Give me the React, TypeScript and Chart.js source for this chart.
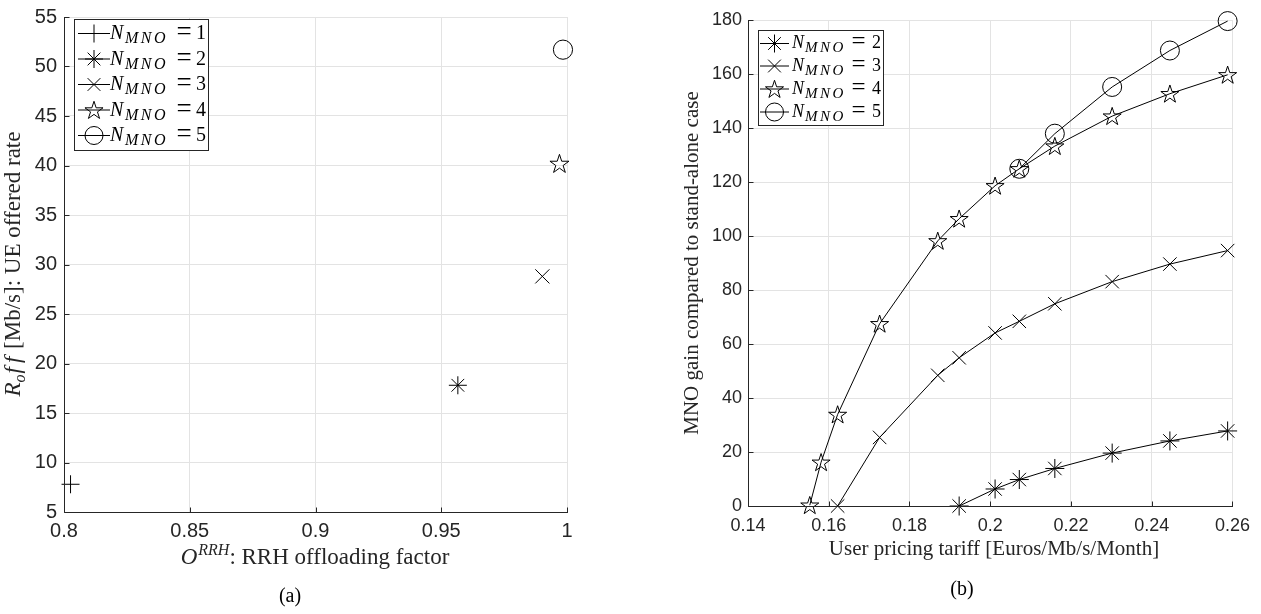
import React, { useEffect, useRef } from "react";
import { Chart, registerables } from "chart.js";
Chart.register(...registerables);

// ---------------- Panel (a) data ----------------
const mnoCountsA = [1, 2, 3, 4, 5];
const offloadingFactor = [0.8026, 0.9566, 0.9902, 0.997, 0.9984];
const offeredRate = [7.8, 17.8, 28.8, 40.2, 51.7];
const xTicksA = [0.8, 0.85, 0.9, 0.95, 1];
const yTicksA = [5, 10, 15, 20, 25, 30, 35, 40, 45, 50, 55];

// ---------------- Panel (b) data ----------------
const tariff = [0.1553, 0.1581, 0.1622, 0.1726, 0.187, 0.1923, 0.2012, 0.2072, 0.216, 0.2302, 0.2445, 0.2588];
const gainMno2 = [null, null, null, null, null, 0, 6.3, 9.8, 13.9, 19.6, 24.1, 27.8];
const gainMno3 = [null, null, 0, 25.4, 48.4, 54.9, 64.1, 68.4, 74.9, 83.1, 89.6, 94.6];
const gainMno4 = [0.3, 16.2, 33.9, 67.5, 98.2, 106.4, 118.6, 124.9, 133.3, 144.4, 152.7, 159.7];
const gainMno5 = [null, null, null, null, null, null, null, 124.9, 137.9, 155.2, 168.7, 179.6];
const mnoCountsB = [2, 3, 4, 5];
const xTicksB = [0.14, 0.16, 0.18, 0.2, 0.22, 0.24, 0.26];
const yTicksB = [0, 20, 40, 60, 80, 100, 120, 140, 160, 180];

const SANS = "'Liberation Sans', Arial, Helvetica, sans-serif";
const SERIF = "'Liberation Serif', 'Times New Roman', serif";
const AXIS = "#262626";
const GRID = "#e3e3e3";

type Kind = "cross" | "star" | "crossRot" | "penta" | "circle";
const kindByN: Record<number, Kind> = { 1: "cross", 2: "star", 3: "crossRot", 4: "penta", 5: "circle" };

function strokePentagram(ctx: CanvasRenderingContext2D, x: number, y: number, R: number) {
  const cy = y + R * 0.08;
  const r = R * 0.382;
  ctx.beginPath();
  for (let i = 0; i < 10; i++) {
    const ang = -Math.PI / 2 + (i * Math.PI) / 5;
    const rr = i % 2 === 0 ? R : r;
    const px = x + rr * Math.cos(ang);
    const py = cy + rr * Math.sin(ang);
    if (i === 0) ctx.moveTo(px, py);
    else ctx.lineTo(px, py);
  }
  ctx.closePath();
  ctx.strokeStyle = "#000";
  ctx.lineWidth = 1;
  ctx.stroke();
}

function drawMarker(ctx: CanvasRenderingContext2D, kind: Kind, x: number, y: number, r: number) {
  if (kind === "penta") {
    strokePentagram(ctx, x, y, r + 0.5);
    return;
  }
  ctx.beginPath();
  const d = r * Math.SQRT1_2;
  if (kind === "cross" || kind === "star") {
    ctx.moveTo(x - r, y);
    ctx.lineTo(x + r, y);
    ctx.moveTo(x, y - r);
    ctx.lineTo(x, y + r);
  }
  if (kind === "crossRot" || kind === "star") {
    ctx.moveTo(x - d, y - d);
    ctx.lineTo(x + d, y + d);
    ctx.moveTo(x - d, y + d);
    ctx.lineTo(x + d, y - d);
  }
  if (kind === "circle") ctx.arc(x, y, r, 0, Math.PI * 2);
  ctx.strokeStyle = "#000";
  ctx.lineWidth = 1;
  ctx.stroke();
}

// pentagram markers are not a built-in Chart.js point style: draw them at the
// element positions Chart.js computed for those datasets
const pentagramPlugin = {
  id: "pentagram",
  afterDatasetsDraw(chart: any) {
    const ctx: CanvasRenderingContext2D = chart.ctx;
    chart.data.datasets.forEach((ds: any, i: number) => {
      if (!ds.pentagramRadius) return;
      const meta = chart.getDatasetMeta(i);
      ctx.save();
      meta.data.forEach((el: any) => strokePentagram(ctx, el.x, el.y, ds.pentagramRadius));
      ctx.restore();
    });
  },
};

type Run = { t: string; f: string; dy?: number; gap?: number };
function runsWidth(ctx: CanvasRenderingContext2D, runs: Run[]) {
  let w = 0;
  for (const r of runs) {
    ctx.font = r.f;
    w += ctx.measureText(r.t).width + (r.gap || 0);
  }
  return w;
}
function drawRuns(ctx: CanvasRenderingContext2D, runs: Run[], x: number, y: number) {
  for (const r of runs) {
    ctx.font = r.f;
    ctx.fillText(r.t, x, y + (r.dy || 0));
    x += ctx.measureText(r.t).width + (r.gap || 0);
  }
}
function drawCentered(ctx: CanvasRenderingContext2D, runs: Run[], cx: number, baseline: number, vertical = false) {
  ctx.save();
  ctx.textAlign = "left";
  ctx.textBaseline = "alphabetic";
  const w = runsWidth(ctx, runs);
  if (vertical) {
    ctx.translate(baseline, cx);
    ctx.rotate(-Math.PI / 2);
    drawRuns(ctx, runs, -w / 2, 0);
  } else {
    drawRuns(ctx, runs, cx - w / 2, baseline);
  }
  ctx.restore();
}

type LegendCfg = {
  box: [number, number, number, number];
  rows: number[];
  counts: number[];
  line: [number, number];
  markerX: number;
  radius: number;
  textX: number;
  size: number;
  sub: number;
  subAt: number;
  subGap: number;
  eqSize: number;
  eqAt: number;
  numAt: number;
};

function drawLegend(ctx: CanvasRenderingContext2D, cfg: LegendCfg) {
  const [x0, y0, x1, y1] = cfg.box;
  ctx.save();
  ctx.fillStyle = "#fff";
  ctx.fillRect(x0, y0, x1 - x0, y1 - y0);
  ctx.strokeStyle = AXIS;
  ctx.lineWidth = 1;
  ctx.strokeRect(x0 + 0.5, y0 + 0.5, x1 - x0 - 1, y1 - y0 - 1);
  cfg.counts.forEach((n, i) => {
    const y = cfg.rows[i];
    ctx.beginPath();
    ctx.moveTo(cfg.line[0], y + 0.5);
    ctx.lineTo(cfg.line[1], y + 0.5);
    ctx.strokeStyle = "#000";
    ctx.lineWidth = 1;
    ctx.stroke();
    drawMarker(ctx, kindByN[n], cfg.markerX, y + 0.5, cfg.radius);
    ctx.fillStyle = "#000";
    ctx.textBaseline = "alphabetic";
    const base = y + Math.round(cfg.size * 0.3);
    ctx.textAlign = "left";
    ctx.font = `italic ${cfg.size}px ${SERIF}`;
    ctx.fillText("N", cfg.textX, base);
    ctx.font = `italic ${cfg.sub}px ${SERIF}`;
    let sx = cfg.textX + cfg.subAt;
    for (const ch of ["M", "N", "O"]) {
      ctx.fillText(ch, sx, base + Math.round(cfg.sub * 0.28));
      sx += ctx.measureText(ch).width + cfg.subGap;
    }
    ctx.textAlign = "center";
    ctx.font = `${cfg.eqSize}px ${SERIF}`;
    ctx.fillText("=", cfg.textX + cfg.eqAt, base + 1);
    ctx.font = `${cfg.size}px ${SERIF}`;
    ctx.fillText(String(n), cfg.textX + cfg.numAt, base);
  });
  ctx.restore();
}

function drawAxes(chart: any) {
  const ctx: CanvasRenderingContext2D = chart.ctx;
  const { left, right, top, bottom } = chart.chartArea;
  const xs = chart.scales.x;
  const ys = chart.scales.y;
  ctx.save();
  ctx.strokeStyle = AXIS;
  ctx.lineWidth = 1;
  ctx.beginPath();
  const L = Math.round(left) + 0.5;
  const B = Math.round(bottom) + 0.5;
  ctx.moveTo(L, Math.round(top));
  ctx.lineTo(L, B);
  ctx.lineTo(Math.round(right) + 1, B);
  for (const t of xs.ticks) {
    const px = Math.round(xs.getPixelForValue(t.value)) + 0.5;
    ctx.moveTo(px, B);
    ctx.lineTo(px, B - 5);
  }
  for (const t of ys.ticks) {
    const py = Math.round(ys.getPixelForValue(t.value)) + 0.5;
    ctx.moveTo(L, py);
    ctx.lineTo(L + 5, py);
  }
  ctx.stroke();
  ctx.restore();
}

function scaleOpts(ticksArr: number[], min: number, max: number, font: number, pad: number, fit: (s: any) => void) {
  return {
    type: "linear" as const,
    min,
    max,
    afterBuildTicks: (s: any) => {
      s.ticks = ticksArr.map((v) => ({ value: v }));
    },
    afterFit: fit,
    grid: { color: GRID, lineWidth: 1, drawTicks: false },
    border: { display: false },
    ticks: {
      color: AXIS,
      font: { family: SANS, size: font, lineHeight: 1 },
      padding: pad,
      autoSkip: false,
      maxRotation: 0,
      callback: (v: any) => String(v),
    },
  };
}

function pointOpts(n: number, radius: number, penta: number) {
  const kind = kindByN[n];
  if (kind === "penta") {
    return {
      pointStyle: "circle",
      pointRadius: radius,
      pointBorderColor: "rgba(0,0,0,0)",
      pointBackgroundColor: "rgba(0,0,0,0)",
      pointBorderWidth: 0,
      pentagramRadius: penta,
    };
  }
  return {
    pointStyle: kind,
    pointRadius: radius,
    pointBorderColor: "#000",
    pointBackgroundColor: "rgba(0,0,0,0)",
    pointBorderWidth: 1,
  };
}

function PanelA() {
  const ref = useRef<HTMLCanvasElement>(null);
  useEffect(() => {
    const radius: Record<number, number> = { 1: 9, 2: 9, 3: 10, 4: 10, 5: 9.6 };
    const legendA: LegendCfg = {
      box: [74, 19, 209, 151],
      rows: [33, 58.5, 84, 109.5, 135],
      counts: mnoCountsA,
      line: [78, 110],
      markerX: 94,
      radius: 9,
      textX: 110,
      size: 20,
      sub: 16,
      subAt: 15,
      subGap: 2.5,
      eqSize: 27,
      eqAt: 74,
      numAt: 91,
    };
    const plugin = {
      id: "decorA",
      afterDraw(chart: any) {
        const ctx: CanvasRenderingContext2D = chart.ctx;
        drawAxes(chart);
        drawLegend(ctx, legendA);
        ctx.save();
        ctx.fillStyle = AXIS;
        drawCentered(
          ctx,
          [
            { t: "O", f: `italic 23px ${SERIF}`, gap: 1 },
            { t: "RRH", f: `italic 16px ${SERIF}`, dy: -9 },
            { t: ": RRH offloading factor", f: `23px ${SERIF}` },
          ],
          315,
          564
        );
        drawCentered(
          ctx,
          [
            { t: "R", f: `italic 23px ${SERIF}` },
            { t: "o", f: `italic 16px ${SERIF}`, dy: 5, gap: 1 },
            { t: "f", f: `italic 23px ${SERIF}`, gap: 4 },
            { t: "f", f: `italic 23px ${SERIF}`, gap: 2 },
            { t: " [Mb/s]: UE offered rate", f: `23px ${SERIF}` },
          ],
          264,
          20,
          true
        );
        ctx.fillStyle = "#000";
        drawCentered(ctx, [{ t: "(a)", f: `20px ${SERIF}` }], 290, 602);
        ctx.restore();
      },
    };
    const chart = new Chart(ref.current!, {
      type: "scatter",
      data: {
        datasets: mnoCountsA.map((n, i) => ({
          label: `N_MNO = ${n}`,
          data: [{ x: offloadingFactor[i], y: offeredRate[i] }],
          showLine: false,
          ...(pointOpts(n, radius[n], 10) as any),
          clip: false as any,
        })),
      },
      options: {
        responsive: false,
        animation: false,
        events: [],
        layout: { padding: { left: 0, right: 73, top: 10, bottom: 0 } },
        plugins: { legend: { display: false }, tooltip: { enabled: false } },
        scales: {
          x: scaleOpts(xTicksA, 0.8, 1, 20, 9, (s: any) => {
            s.height = 102;
          }),
          y: scaleOpts(yTicksA, 5, 55, 20, 7, (s: any) => {
            s.width = 64;
          }),
        },
      },
      plugins: [pentagramPlugin, plugin],
    });
    return () => chart.destroy();
  }, []);
  return <canvas ref={ref} width={640} height={614} style={{ position: "absolute", left: 0, top: 0 }} />;
}

function PanelB() {
  const ref = useRef<HTMLCanvasElement>(null);
  useEffect(() => {
    const series = [gainMno2, gainMno3, gainMno4, gainMno5];
    const legendB: LegendCfg = {
      box: [118, 30, 244, 126],
      rows: [43, 65.5, 88.5, 111.5],
      counts: mnoCountsB,
      line: [120, 149],
      markerX: 134.5,
      radius: 9,
      textX: 152,
      size: 18,
      sub: 15,
      subAt: 13,
      subGap: 2.5,
      eqSize: 25,
      eqAt: 66.5,
      numAt: 84.5,
    };
    const plugin = {
      id: "decorB",
      afterDraw(chart: any) {
        const ctx: CanvasRenderingContext2D = chart.ctx;
        drawAxes(chart);
        drawLegend(ctx, legendB);
        ctx.save();
        ctx.fillStyle = AXIS;
        drawCentered(ctx, [{ t: "User pricing tariff [Euros/Mb/s/Month]", f: `21px ${SERIF}` }], 354, 555);
        drawCentered(ctx, [{ t: "MNO gain compared to stand-alone case", f: `21px ${SERIF}` }], 263, 58, true);
        ctx.fillStyle = "#000";
        drawCentered(ctx, [{ t: "(b)", f: `20px ${SERIF}` }], 322, 595);
        ctx.restore();
      },
    };
    const chart = new Chart(ref.current!, {
      type: "scatter",
      data: {
        datasets: mnoCountsB.map((n, i) => ({
          label: `N_MNO = ${n}`,
          data: tariff
            .map((x, j) => ({ x, y: series[i][j] as number | null }))
            .filter((p) => p.y !== null) as any,
          showLine: true,
          borderColor: "#000",
          borderWidth: 1,
          tension: 0,
          fill: false,
          ...(pointOpts(n, 9.5, 9.5) as any),
          clip: false as any,
        })),
      },
      options: {
        responsive: false,
        animation: false,
        events: [],
        layout: { padding: { left: 0, right: 27, top: 20, bottom: 0 } },
        plugins: { legend: { display: false }, tooltip: { enabled: false } },
        scales: {
          x: scaleOpts(xTicksB, 0.14, 0.26, 18, 11, (s: any) => {
            s.height = 108;
          }),
          y: scaleOpts(yTicksB, 0, 180, 18, 6, (s: any) => {
            s.width = 108;
          }),
        },
      },
      plugins: [pentagramPlugin, plugin],
    });
    return () => chart.destroy();
  }, []);
  return <canvas ref={ref} width={621} height={614} style={{ position: "absolute", left: 640, top: 0 }} />;
}

export default function App() {
  return (
    <div style={{ position: "absolute", left: 0, top: 0, width: 1261, height: 614, background: "#fff", overflow: "hidden" }}>
      <PanelA />
      <PanelB />
    </div>
  );
}
